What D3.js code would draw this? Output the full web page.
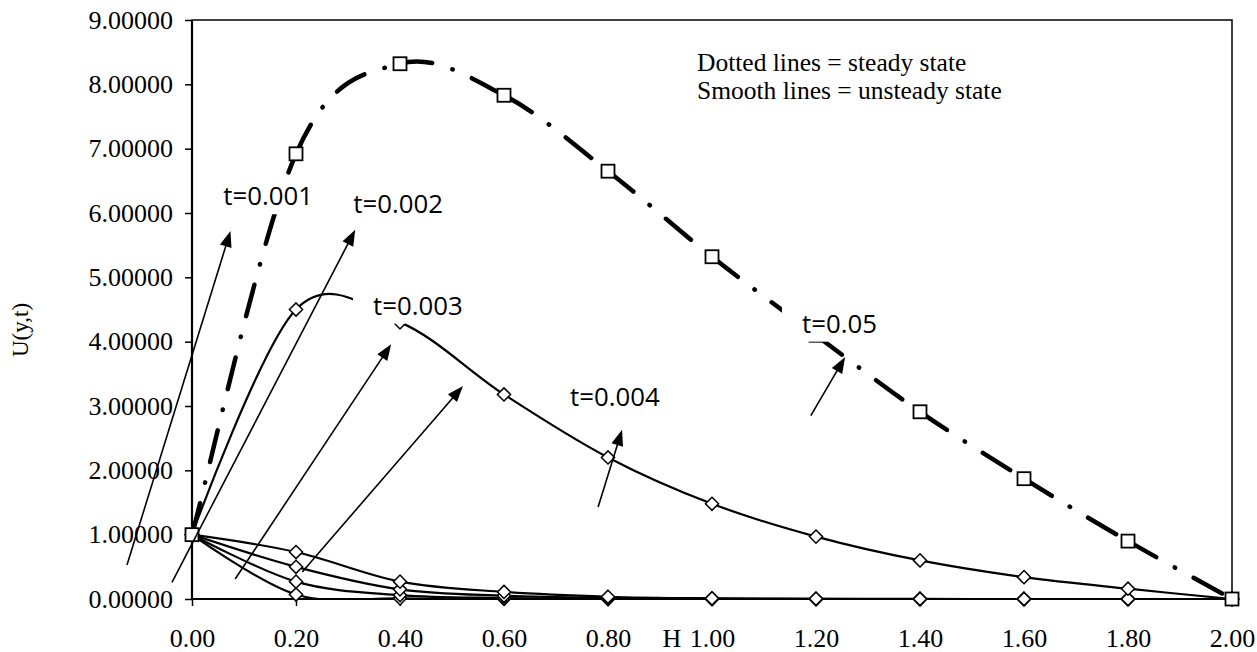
<!DOCTYPE html>
<html lang="en">
<head>
<meta charset="utf-8">
<title>U(y,t)</title>
<script src="https://cdn.jsdelivr.net/npm/d3@7"></script>
<style>
  * { margin: 0; padding: 0; }
  body { background: #fff; overflow: hidden; }
  svg { display: block; }
  .tick text { font-family: "Liberation Serif", "Times New Roman", serif; font-size: 26px; fill: #000; }
  .tick line { stroke: #000; stroke-width: 1.5; }
</style>
</head>
<body>
<svg id="chart" width="1257" height="652"></svg>
<script>
// H positions and the U(y,t) values
const H = [0.0, 0.2, 0.4, 0.6, 0.8, 1.0, 1.2, 1.4, 1.6, 1.8, 2.0];
const steady = [1.0, 6.92, 8.32, 7.83, 6.65, 5.32, 4.10, 2.91, 1.87, 0.90, 0.0];
const unsteady1 = [1.0, 4.50, 4.30, 3.18, 2.20, 1.48, 0.97, 0.60, 0.34, 0.16, 0.0];
const unsteady2 = [1.0, 0.73, 0.27, 0.11, 0.035, 0.01, 0.003, 0.001, 0.0, 0.0, 0.0];
const unsteady3 = [1.0, 0.50, 0.15, 0.05, 0.015, 0.004, 0.001, 0.0, 0.0, 0.0, 0.0];
const unsteady4 = [1.0, 0.27, 0.06, 0.015, 0.003, 0.001, 0.0, 0.0, 0.0, 0.0, 0.0];
const unsteady5 = [1.0, 0.07, 0.01, 0.002, 0.0, 0.0, 0.0, 0.0, 0.0, 0.0, 0.0];
const yTicks = [0, 1, 2, 3, 4, 5, 6, 7, 8, 9];

// annotations (data units): arrows [x1, y1, x2, y2] and labels [x, y, text]
const arrows = [
  [-0.125, 0.53, 0.074, 5.72],
  [-0.0385, 0.26, 0.314, 5.74],
  [0.083, 0.31, 0.383, 3.96],
  [0.212, 0.42, 0.521, 3.31],
  [0.781, 1.43, 0.827, 2.63],
  [1.190, 2.85, 1.256, 3.76]
];
const labels = [
  [0.060, 6.12, "t=0.001"],
  [0.310, 6.00, "t=0.002"],
  [0.348, 4.42, "t=0.003"],
  [0.727, 3.00, "t=0.004"],
  [1.173, 4.14, "t=0.05"]
];
const legendLines = ["Dotted lines = steady state", "Smooth lines = unsteady state"];

const svg = d3.select("#chart");
svg.append("rect").attr("width", 1257).attr("height", 652).attr("fill", "#fff");

const x = d3.scaleLinear().domain([0, 2]).range([192, 1232]);
const y = d3.scaleLinear().domain([0, 9]).range([599, 20]);

svg.append("clipPath").attr("id", "plot")
  .append("rect")
  .attr("x", x(0)).attr("y", y(9))
  .attr("width", x(2) - x(0)).attr("height", y(0) - y(9) + 1);

// axes
const yAxis = svg.append("g")
  .attr("transform", `translate(${x(0)},0)`)
  .call(d3.axisLeft(y).tickValues(yTicks).tickFormat(d3.format(".5f")).tickSize(7).tickPadding(12));
yAxis.select(".domain").remove();

const xAxis = svg.append("g")
  .attr("transform", `translate(0,${y(0)})`)
  .call(d3.axisBottom(x).tickValues(H).tickFormat(d3.format(".2f")).tickSize(7).tickPadding(23));
xAxis.select(".domain").remove();

// plot frame
svg.append("rect")
  .attr("x", x(0)).attr("y", y(9))
  .attr("width", x(2) - x(0)).attr("height", y(0) - y(9))
  .attr("fill", "none").attr("stroke", "#000").attr("stroke-width", 1.5);
svg.append("line").attr("x1", x(0)).attr("x2", x(0)).attr("y1", y(9)).attr("y2", y(0))
  .attr("stroke", "#000").attr("stroke-width", 2.2);
svg.append("line").attr("x1", x(0)).attr("x2", x(2)).attr("y1", y(0)).attr("y2", y(0))
  .attr("stroke", "#000").attr("stroke-width", 2.2);

svg.append("text")
  .attr("transform", `translate(28,330) rotate(-90)`)
  .attr("text-anchor", "middle")
  .style("font-family", "'Liberation Serif', serif").style("font-size", "23px")
  .text("U(y,t)");

svg.append("text")
  .attr("x", x(0.923)).attr("y", 647)
  .attr("text-anchor", "middle")
  .style("font-family", "'Liberation Serif', serif").style("font-size", "26px")
  .text("H");

// smooth lines
const line = d3.line()
  .x((d, i) => x(H[i]))
  .y(d => y(d))
  .curve(d3.curveCardinal.tension(0));

const diamond = d3.symbol().type(d3.symbolDiamond2).size(110);
const unsteady = [unsteady5, unsteady4, unsteady3, unsteady2, unsteady1];

unsteady.forEach(vals => {
  svg.append("path")
    .attr("clip-path", "url(#plot)")
    .attr("d", line(vals))
    .attr("fill", "none").attr("stroke", "#000").attr("stroke-width", 2.2);
});
unsteady.forEach(vals => {
  svg.append("g").selectAll("path")
    .data(vals)
    .join("path")
    .attr("d", diamond)
    .attr("transform", (d, i) => `translate(${x(H[i])},${y(d)})`)
    .attr("fill", "#fff").attr("stroke", "#000").attr("stroke-width", 1.5);
});

// steady: dash-dot, pattern restarts at every point (as Excel does)
function segments(vals) {
  const pts = H.map((h, i) => [x(h), y(vals[i])]);
  const n = pts.length;
  const out = [];
  for (let i = 0; i < n - 1; i++) {
    const p0 = pts[Math.max(i - 1, 0)], p1 = pts[i], p2 = pts[i + 1], p3 = pts[Math.min(i + 2, n - 1)];
    const p = d3.path();
    p.moveTo(p1[0], p1[1]);
    p.bezierCurveTo(
      p1[0] + (p2[0] - p0[0]) / 6, p1[1] + (p2[1] - p0[1]) / 6,
      p2[0] - (p3[0] - p1[0]) / 6, p2[1] - (p3[1] - p1[1]) / 6,
      p2[0], p2[1]);
    out.push(p.toString());
  }
  return out;
}

svg.append("g").selectAll("path")
  .data(segments(steady))
  .join("path")
  .attr("d", d => d)
  .attr("fill", "none").attr("stroke", "#000").attr("stroke-width", 4.5)
  .attr("stroke-linecap", "round")
  .attr("stroke-dasharray", "32.5,21,0.5,21");

const sq = 13;
svg.append("g").selectAll("rect")
  .data(steady)
  .join("rect")
  .attr("x", (d, i) => x(H[i]) - sq / 2)
  .attr("y", d => y(d) - sq / 2)
  .attr("width", sq).attr("height", sq)
  .attr("fill", "#fff").attr("stroke", "#000").attr("stroke-width", 1.8);

// arrows
const headLen = 16, headHalf = 6;
arrows.forEach(([a, b, c, d]) => {
  const x1 = x(a), y1 = y(b), x2 = x(c), y2 = y(d);
  const len = Math.hypot(x2 - x1, y2 - y1);
  const ux = (x2 - x1) / len, uy = (y2 - y1) / len;
  const bx = x2 - ux * headLen, by = y2 - uy * headLen;
  svg.append("line")
    .attr("x1", x1).attr("y1", y1).attr("x2", bx + ux * 2).attr("y2", by + uy * 2)
    .attr("stroke", "#000").attr("stroke-width", 1.6);
  svg.append("path")
    .attr("d", `M${x2},${y2}L${bx - uy * headHalf},${by + ux * headHalf}L${bx + uy * headHalf},${by - ux * headHalf}Z`)
    .attr("fill", "#000");
});

// labels with white text boxes
labels.forEach(([a, b, t]) => {
  const g = svg.append("g");
  const box = g.append("rect").attr("fill", "#fff");
  const txt = g.append("text")
    .attr("x", x(a)).attr("y", y(b))
    .style("font-family", "'Open Sans', sans-serif").style("font-size", "25.8px")
    .text(t);
  const w = txt.node().getComputedTextLength();
  box.attr("x", x(a) - 20).attr("y", y(b) - 27).attr("width", w + 28).attr("height", 36);
});

// legend text
svg.append("g").selectAll("text")
  .data(legendLines)
  .join("text")
  .attr("x", 697)
  .attr("y", (d, i) => 71 + i * 28)
  .style("font-family", "'Liberation Serif', serif").style("font-size", "25.5px")
  .text(d => d);
</script>
</body>
</html>
